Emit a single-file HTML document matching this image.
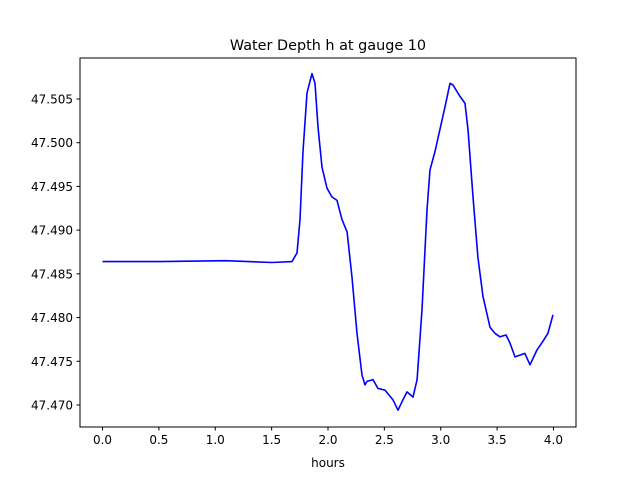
<!DOCTYPE html>
<html><head><meta charset="utf-8"><style>
body{margin:0;background:#fff;}
svg text{font-family:"DejaVu Sans","Liberation Sans",sans-serif;fill:#000;}
</style></head><body>
<svg id="chart" width="640" height="480" xmlns="http://www.w3.org/2000/svg">
<rect width="640" height="480" fill="#fff"/>
<text x="328" y="50" font-size="14.4" text-anchor="middle">Water Depth h at gauge 10</text>
<g id="plot"></g>
<rect x="80" y="58" width="496" height="369" fill="none" stroke="#000" stroke-width="1"/>
<text x="328" y="467" font-size="12" text-anchor="middle">hours</text>
</svg>
<script>
const hours=[0,0.5,1.095,1.503,1.681,1.725,1.752,1.778,1.814,1.858,1.885,1.911,1.947,1.991,2.035,2.080,2.124,2.169,2.213,2.257,2.302,2.328,2.346,2.399,2.443,2.506,2.576,2.621,2.665,2.701,2.754,2.790,2.834,2.878,2.905,2.949,2.993,3.038,3.082,3.109,3.171,3.215,3.242,3.286,3.330,3.375,3.437,3.481,3.525,3.579,3.614,3.659,3.703,3.747,3.792,3.854,3.907,3.951,3.996];
const depth=[47.4864,47.4864,47.4865,47.4863,47.4864,47.4874,47.4912,47.4990,47.5057,47.5079,47.5068,47.5018,47.4972,47.4948,47.4938,47.4934,47.4912,47.4898,47.4846,47.4782,47.4734,47.4723,47.4727,47.4729,47.4719,47.4717,47.4706,47.4694,47.4706,47.4715,47.4709,47.4729,47.4809,47.4923,47.4969,47.4990,47.5015,47.5041,47.5068,47.5066,47.5053,47.5045,47.5015,47.4938,47.4869,47.4824,47.4789,47.4782,47.4778,47.4780,47.4771,47.4755,47.4757,47.4759,47.4746,47.4763,47.4773,47.4782,47.4803];
const xTicks=[0,0.5,1,1.5,2,2.5,3,3.5,4];
const xTickLabels=["0.0","0.5","1.0","1.5","2.0","2.5","3.0","3.5","4.0"];
const yTicks=[47.470,47.475,47.480,47.485,47.490,47.495,47.500,47.505];
const yTickLabels=["47.470","47.475","47.480","47.485","47.490","47.495","47.500","47.505"];
const L=80,R=576,T=58,B=427;
const xMin=-0.2,xMax=4.2,yMin=47.46748,yMax=47.50969;
const xs=v=>L+(v-xMin)/(xMax-xMin)*(R-L);
const ys=v=>B-(v-yMin)/(yMax-yMin)*(B-T);
const NS="http://www.w3.org/2000/svg";
const g=document.getElementById('plot');
function mk(t,a){const e=document.createElementNS(NS,t);for(const k in a)e.setAttribute(k,a[k]);g.appendChild(e);return e;}
xTicks.forEach((v,i)=>{
  const l=mk('line',{x1:xs(v),x2:xs(v),y1:B,y2:B+3.5,stroke:'#000'});
  
  
  const t=mk('text',{x:xs(v),y:B+17,'font-size':12,'text-anchor':'middle'});
  t.textContent=xTickLabels[i];
  
  
});
yTicks.forEach((v,i)=>{
  const l=mk('line',{x1:L-3.5,x2:L,y1:ys(v),y2:ys(v),stroke:'#000'});
  
  
  const t=mk('text',{x:L-7,y:ys(v)+4.5,'font-size':12,'text-anchor':'end'});
  t.textContent=yTickLabels[i];
  
  
});
const pts=hours.map((h,i)=>xs(h).toFixed(1)+','+ys(depth[i]).toFixed(1)).join(' ');
const line=mk('polyline',{points:pts,fill:'none',stroke:'#0000ff','stroke-width':1.6,'stroke-linejoin':'round'});


</script>
</body></html>
